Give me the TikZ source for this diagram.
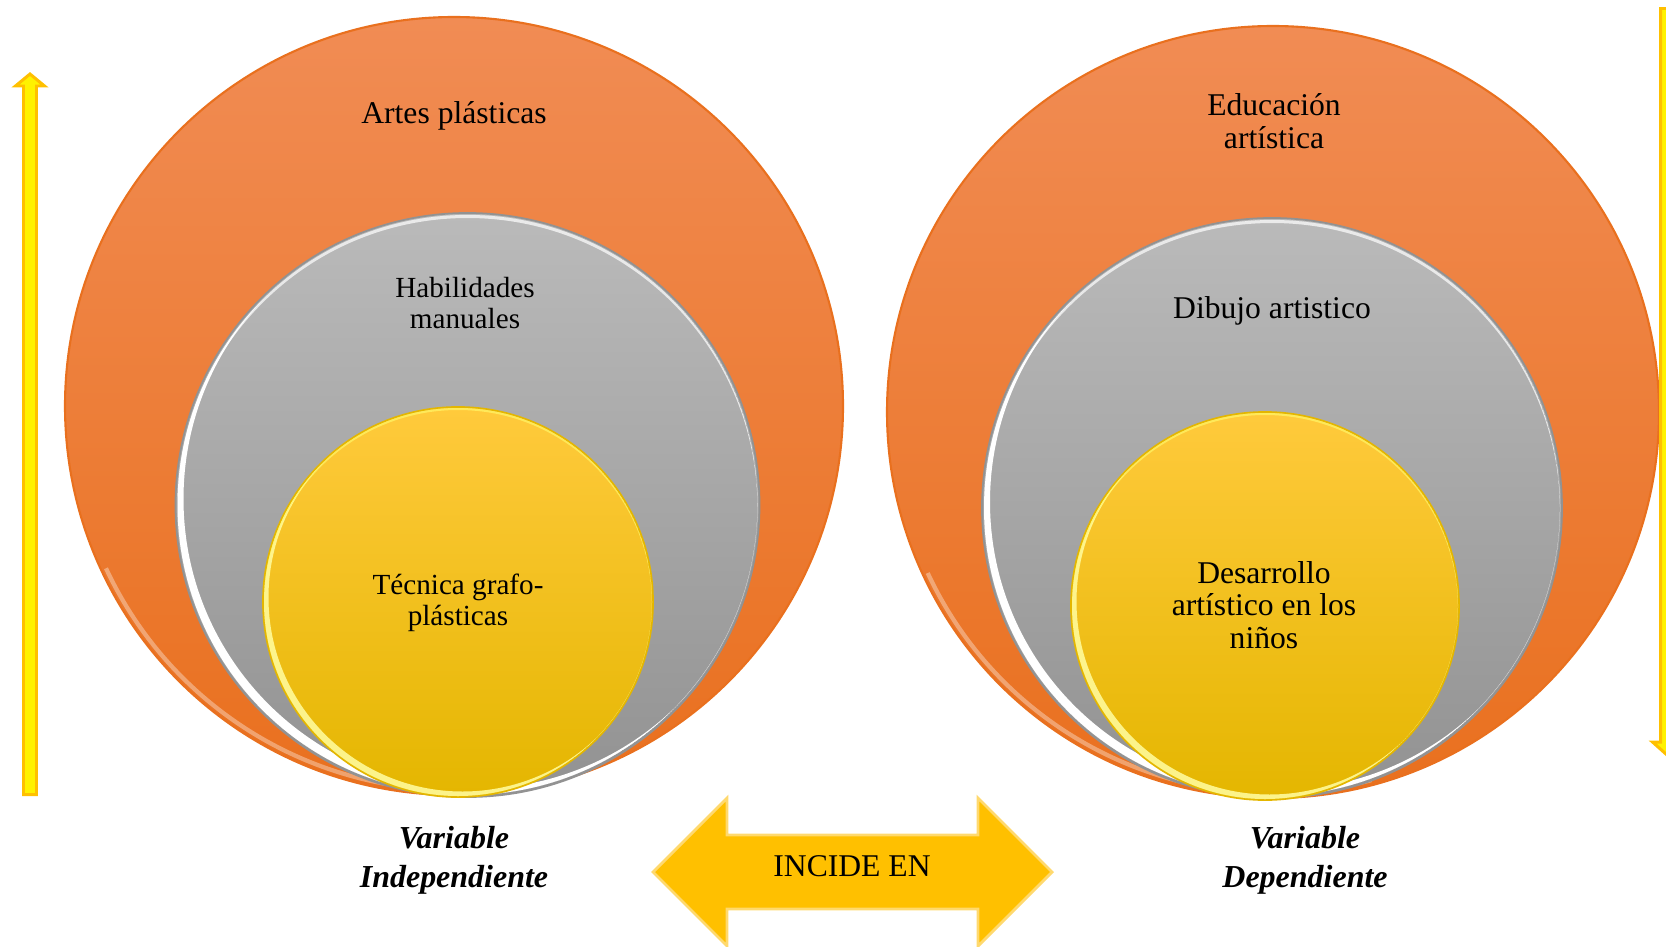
\documentclass[tikz,border=0pt]{standalone}
\usepackage{fontspec}
\setmainfont{Liberation Serif}
\definecolor{naranjaA}{RGB}{241,140,84}
\definecolor{naranjaM}{RGB}{246,128,40}
\definecolor{naranjaB}{RGB}{233,112,30}
\definecolor{grisA}{RGB}{186,186,186}
\definecolor{grisM}{RGB}{168,168,168}
\definecolor{grisB}{RGB}{146,146,146}
\definecolor{amarilloA}{RGB}{255,202,60}
\definecolor{amarilloM}{RGB}{253,196,10}
\definecolor{amarilloB}{RGB}{228,182,0}
\definecolor{flecha}{RGB}{255,192,0}
\definecolor{bordeflecha}{RGB}{255,217,110}

\begin{document}
\begin{tikzpicture}[
		naranja/.style={circle,inner sep=0pt,top color=naranjaA,middle color=naranjaM,bottom color=naranjaB,draw=naranjaB,line width=0.6pt},
		gris/.style={circle,inner sep=0pt,top color=grisA,middle color=grisM,bottom color=grisB,draw=grisB,line width=0.5pt},
		amarillo/.style={circle,inner sep=0pt,top color=amarilloA,middle color=amarilloM,bottom color=amarilloB,draw=amarilloB,line width=0.5pt},
		texto/.style={align=center,inner sep=0pt,font=\fontsize{9}{9.2}\selectfont},
		textochico/.style={align=center,inner sep=0pt,font=\fontsize{8.3}{8.8}\selectfont},
		vartexto/.style={align=center,inner sep=0pt,font=\fontsize{9.1}{11.1}\selectfont\bfseries\itshape},
		vertical/.style={fill=yellow,draw=flecha,line width=0.85pt,line join=miter}]
		\useasboundingbox (0,0) rectangle (16.66,9.46);
		\clip (0,0) rectangle (16.66,9.46);
		
		\node[naranja,minimum size=7.78cm] (artes) at (4.54,5.40) {};
		\draw[white,opacity=0.35,line width=1.2pt] ([shift={(205:3.84)}]4.54,5.40) arc (205:285:3.84);
		\node[gris,minimum size=5.84cm] (habilidades) at (4.675,4.41) {};
		\begin{scope}
			\clip (4.675,4.41) circle (2.90);
			\fill[white,even odd rule] (4.675,4.41) circle (2.90) (4.735,4.47) circle (2.90);
			\fill[white,opacity=0.7,even odd rule] (4.675,4.41) circle (2.90) (4.675,4.38) circle (2.90);
		\end{scope}
		\node[amarillo,minimum size=3.90cm] (tecnica) at (4.58,3.44) {};
		\begin{scope}
			\clip (4.58,3.44) circle (1.94);
			\fill[yellow!40!white,opacity=0.9,even odd rule] (4.58,3.44) circle (1.94) (4.625,3.485) circle (1.94);
			\fill[yellow!60!white,opacity=0.7,even odd rule] (4.58,3.44) circle (1.94) (4.58,3.42) circle (1.94);
		\end{scope}
		
		\node[naranja,minimum size=7.72cm] (educacion) at (12.73,5.34) {};
		\draw[white,opacity=0.35,line width=1.2pt] ([shift={(205:3.81)}]12.73,5.34) arc (205:285:3.81);
		\node[gris,minimum size=5.80cm] (dibujo) at (12.72,4.38) {};
		\begin{scope}
			\clip (12.72,4.38) circle (2.88);
			\fill[white,even odd rule] (12.72,4.38) circle (2.88) (12.78,4.44) circle (2.88);
			\fill[white,opacity=0.7,even odd rule] (12.72,4.38) circle (2.88) (12.72,4.35) circle (2.88);
		\end{scope}
		\node[amarillo,minimum size=3.88cm] (desarrollo) at (12.65,3.40) {};
		\begin{scope}
			\clip (12.65,3.40) circle (1.93);
			\fill[yellow!40!white,opacity=0.9,even odd rule] (12.65,3.40) circle (1.93) (12.695,3.445) circle (1.93);
			\fill[yellow!60!white,opacity=0.7,even odd rule] (12.65,3.40) circle (1.93) (12.65,3.38) circle (1.93);
		\end{scope}
		
		\node[texto] (artesTxt) at (4.54,8.30) {Artes plásticas};
		\node[textochico] (habilidadesTxt) at (4.65,6.43) {Habilidades\\manuales};
		\node[textochico] (tecnicaTxt) at (4.58,3.43) {Técnica grafo-\\plásticas};
		\node[texto] (educacionTxt) at (12.74,8.25) {Educación\\artística};
		\node[texto] (dibujoTxt) at (12.72,6.35) {Dibujo artistico};
		\node[texto] (desarrolloTxt) at (12.64,3.41) {Desarrollo\\artístico en los\\niños};
		
		\draw[vertical] (0.235,1.515) -- (0.235,8.60) -- (0.155,8.60) -- (0.30,8.72) -- (0.445,8.60) -- (0.365,8.60) -- (0.365,1.515) -- cycle;
		\draw[vertical] (16.605,9.375) -- (16.605,2.04) -- (16.525,2.04) -- (16.67,1.91) -- (16.815,2.04) -- (16.735,2.04) -- (16.735,9.375) -- cycle;
		
		\draw[fill=flecha,draw=bordeflecha,line width=0.8pt] (6.53,0.74) -- (7.27,1.48) -- (7.27,1.11) -- (9.78,1.11) -- (9.78,1.48) -- (10.52,0.74) -- (9.78,0.0) -- (9.78,0.37) -- (7.27,0.37) -- (7.27,0.0) -- cycle;
		\node[texto] (incide) at (8.52,0.80) {INCIDE EN};
		
		\node[vartexto] (independiente) at (4.54,0.86) {Variable\\Independiente};
		\node[vartexto] (dependiente) at (13.05,0.86) {Variable\\Dependiente};
	\end{tikzpicture}
\end{document}
